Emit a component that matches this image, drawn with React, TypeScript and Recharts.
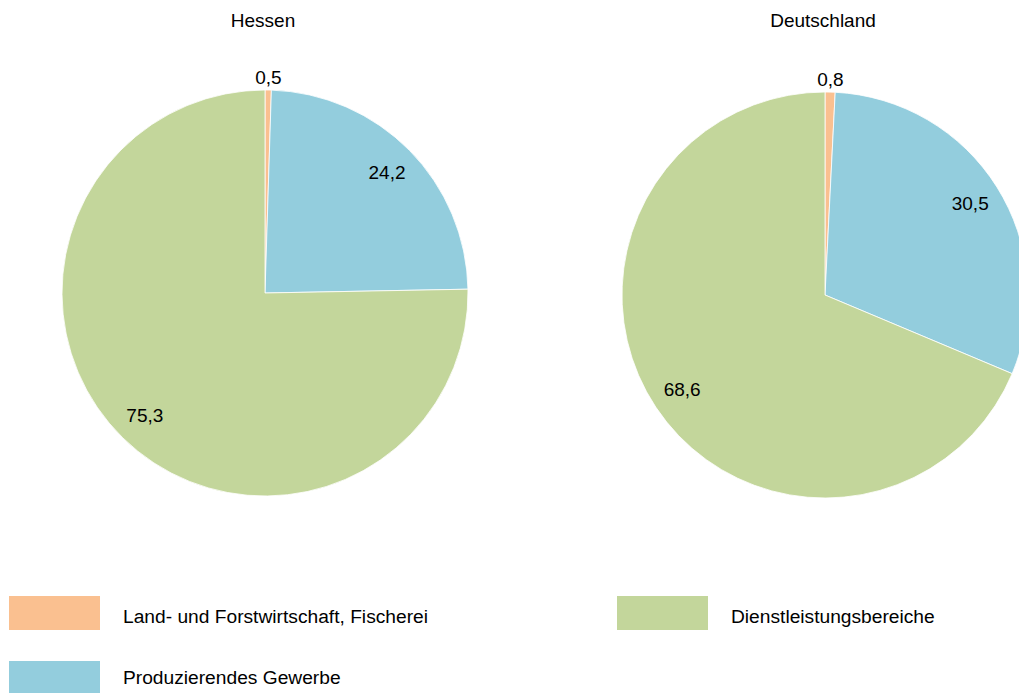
import { Legend, Pie, PieChart, Cell } from 'recharts';

const categories = ['Land- und Forstwirtschaft, Fischerei', 'Produzierendes Gewerbe', 'Dienstleistungsbereiche'];
const hessenValues = [0.5, 24.2, 75.3];
const deutschlandValues = [0.8, 30.5, 68.6];
const titles = ['Hessen', 'Deutschland'];
const colors = ['#FAC090', '#93CDDD', '#C3D69B'];

const FONT = '"Liberation Sans", Arial, sans-serif';

const hessenData = categories.map((name, i) => ({ name, value: hessenValues[i] }));
const deutschlandData = categories.map((name, i) => ({ name, value: deutschlandValues[i] }));

const RADIAN = Math.PI / 180;
const fmt = (v: number) => v.toFixed(1).replace('.', ',');

const renderLabel = (props: any) => {
  const { cx, cy, midAngle, outerRadius, value } = props;
  const r = value < 5 ? outerRadius + 13 : outerRadius * 0.845;
  const x = cx + r * Math.cos(-midAngle * RADIAN);
  const y = cy + r * Math.sin(-midAngle * RADIAN);
  return (
    <text x={x} y={y} fill="#000" textAnchor="middle" dominantBaseline="central" style={{ fontSize: 19, fontFamily: FONT }}>
      {fmt(value)}
    </text>
  );
};

// legend: two rows, filled column by column
const legendCols = [9, 617];
const boxRows = [596, 661];
const textRows = [617, 678];

const renderLegend = () => (
  <div style={{ position: 'relative', width: 1019, height: 113 }}>
    {categories.map((name, i) => {
      const left = legendCols[Math.floor(i / 2)];
      const row = i % 2;
      return (
        <div key={name}>
          <div style={{ position: 'absolute', left, top: boxRows[row] - 580, width: 91, height: 34, background: colors[i] }} />
          <div
            style={{
              position: 'absolute',
              left: left + 114,
              top: textRows[row] - 580 - 15,
              height: 30,
              lineHeight: '30px',
              whiteSpace: 'nowrap',
              fontSize: 19.2,
              fontFamily: FONT,
              color: '#000',
            }}
          >
            {name}
          </div>
        </div>
      );
    })}
  </div>
);

export default function App() {
  const pies = [
    { data: hessenData, cx: 265, cy: 293 },
    { data: deutschlandData, cx: 825, cy: 295 },
  ];
  return (
    <div style={{ position: 'absolute', left: 0, top: 0, width: 1019, height: 693, background: '#fff' }}>
      {titles.map((t, i) => (
        <div
          key={t}
          style={{
            position: 'absolute',
            left: pies[i].cx - 152,
            width: 300,
            top: 10,
            textAlign: 'center',
            fontSize: 19,
            fontFamily: FONT,
            color: '#000',
          }}
        >
          {t}
        </div>
      ))}
      <PieChart width={1019} height={693} margin={{ top: 0, right: 0, bottom: 0, left: 0 }}>
        {pies.map((p, k) => (
          <Pie
            key={k}
            data={p.data}
            dataKey="value"
            nameKey="name"
            cx={p.cx}
            cy={p.cy}
            outerRadius={203}
            startAngle={90}
            endAngle={-270}
            stroke="#fff"
            strokeWidth={0.8}
            label={renderLabel}
            labelLine={false}
            isAnimationActive={false}
          >
            {p.data.map((d, i) => (
              <Cell key={d.name} fill={colors[i]} />
            ))}
          </Pie>
        ))}
        <Legend
          content={renderLegend}
          wrapperStyle={{ position: 'absolute', left: 0, top: 580, width: 1019, height: 113 }}
        />
      </PieChart>
    </div>
  );
}
